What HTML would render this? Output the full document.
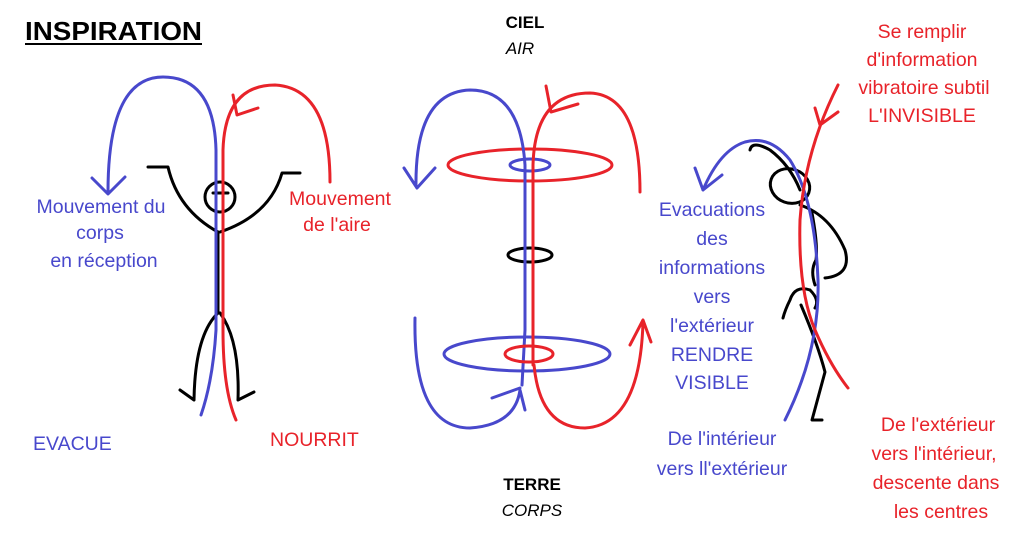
<!DOCTYPE html>
<html><head><meta charset="utf-8"><style>
html,body{margin:0;padding:0;background:#fff;}
svg{display:block;}
text{font-family:"Liberation Sans",sans-serif;}
.b{fill:#4848cc;font-size:19.5px;}
.r{fill:#e8232a;font-size:19.5px;}
.k{fill:#000;font-size:17px;}
</style></head><body>
<svg width="1024" height="546" viewBox="0 0 1024 546" xmlns="http://www.w3.org/2000/svg">
<g fill="none" stroke-width="3" stroke-linecap="round" stroke-linejoin="round">
<g stroke="#000">
<circle cx="220" cy="197" r="15"/>
<path d="M148 167 L168 167 Q178 210 218 232"/>
<path d="M300 173 L282 173 Q270 215 220 232"/>
<path d="M218 232 L218 313"/>
<path d="M218 313 Q195 335 194 400 M180 390 L194 400"/>
<path d="M220 313 Q240 340 238 400 M238 400 L254 392"/>
<path d="M213 193 L228 193"/>
</g>
<path stroke="#4848cc" d="M201 415 Q213 380 216 330 L216 150 Q214 77 163 77 Q108 77 108 192 M92 178 L108 194 L125 177"/>
<path stroke="#e8232a" d="M236 420 Q223 390 223 330 L223 150 Q225 85 275 85 Q330 88 330 182 M233 95 L237 115 L258 108"/>
<ellipse stroke="#e8232a" cx="530" cy="165" rx="82" ry="16"/>
<ellipse stroke="#000" cx="530" cy="255" rx="22" ry="7"/>
<ellipse stroke="#4848cc" cx="527" cy="354" rx="83" ry="17"/>
<path stroke="#4848cc" d="M522 385 L525 330 L525 165 Q520 90 470 90 Q415 92 416 186 M404 168 L417 188 L435 168"/>
<path stroke="#4848cc" d="M415 318 Q413 428 470 428 Q515 425 520 390 L525 410 M492 398 L520 388"/>
<ellipse stroke="#4848cc" cx="530" cy="165" rx="20" ry="6"/>
<path stroke="#e8232a" d="M533 365 L533 165 Q535 93 590 93 Q640 95 640 192 M546 86 L551 112 L578 104"/>
<path stroke="#e8232a" d="M534 365 Q540 428 585 428 Q640 425 643 322 M630 345 L643 320 L651 342"/>
<ellipse stroke="#e8232a" cx="529" cy="354" rx="24" ry="8"/>
<g stroke="#000">
<path d="M750 150 Q752 140 770 150 Q790 165 800 190"/>
<ellipse cx="790" cy="186" rx="20" ry="17" transform="rotate(20 790 186)"/>
<path d="M800 205 Q830 215 845 250 Q852 275 825 278"/>
<path d="M812 213 Q818 245 816 260 Q810 270 815 285"/>
<path d="M810 290 Q795 285 790 300 Q785 310 783 318 M810 290 Q820 300 815 308"/>
<path d="M801 305 Q818 345 825 372 L812 420 L822 420"/>
</g>
<path stroke="#4848cc" d="M785 420 Q820 350 818 280 Q815 200 790 160 Q770 135 745 142 Q720 150 703 190 M695 168 L703 190 L722 175"/>
<path stroke="#e8232a" d="M838 85 Q805 150 800 220 Q798 290 815 330 Q830 365 848 388 M815 108 L820 125 L838 112"/>
</g>
<text x="25" y="40" font-size="26" font-weight="bold" textLength="177" lengthAdjust="spacingAndGlyphs">INSPIRATION</text>
<rect x="25" y="43" width="177" height="2" fill="#000"/>
<g text-anchor="middle">
<text class="b" x="101" y="213">Mouvement du</text>
<text class="b" x="100" y="239">corps</text>
<text class="b" x="104" y="267">en réception</text>
<text class="r" x="340" y="205">Mouvement</text>
<text class="r" x="337" y="231">de l'aire</text>
<text class="k" x="525" y="28" font-weight="bold">CIEL</text>
<text class="k" x="520" y="54" font-style="italic">AIR</text>
<text class="k" x="532" y="490" font-weight="bold">TERRE</text>
<text class="k" x="532" y="516" font-style="italic">CORPS</text>
<text class="b" x="712" y="216">Evacuations</text>
<text class="b" x="712" y="245">des</text>
<text class="b" x="712" y="274">informations</text>
<text class="b" x="712" y="303">vers</text>
<text class="b" x="712" y="332">l'extérieur</text>
<text class="b" x="712" y="361">RENDRE</text>
<text class="b" x="712" y="389">VISIBLE</text>
<text class="b" x="722" y="445">De l'intérieur</text>
<text class="b" x="722" y="475">vers ll'extérieur</text>
<text class="r" x="922" y="38">Se remplir</text>
<text class="r" x="922" y="66">d'information</text>
<text class="r" x="924" y="94">vibratoire subtil</text>
<text class="r" x="922" y="122">L'INVISIBLE</text>
<text class="r" x="938" y="431">De l'extérieur</text>
<text class="r" x="934" y="460">vers l'intérieur,</text>
<text class="r" x="936" y="489">descente dans</text>
<text class="r" x="941" y="518">les centres</text>
</g>
<text class="b" x="33" y="450">EVACUE</text>
<text class="r" x="270" y="446">NOURRIT</text>
</svg>
</body></html>
